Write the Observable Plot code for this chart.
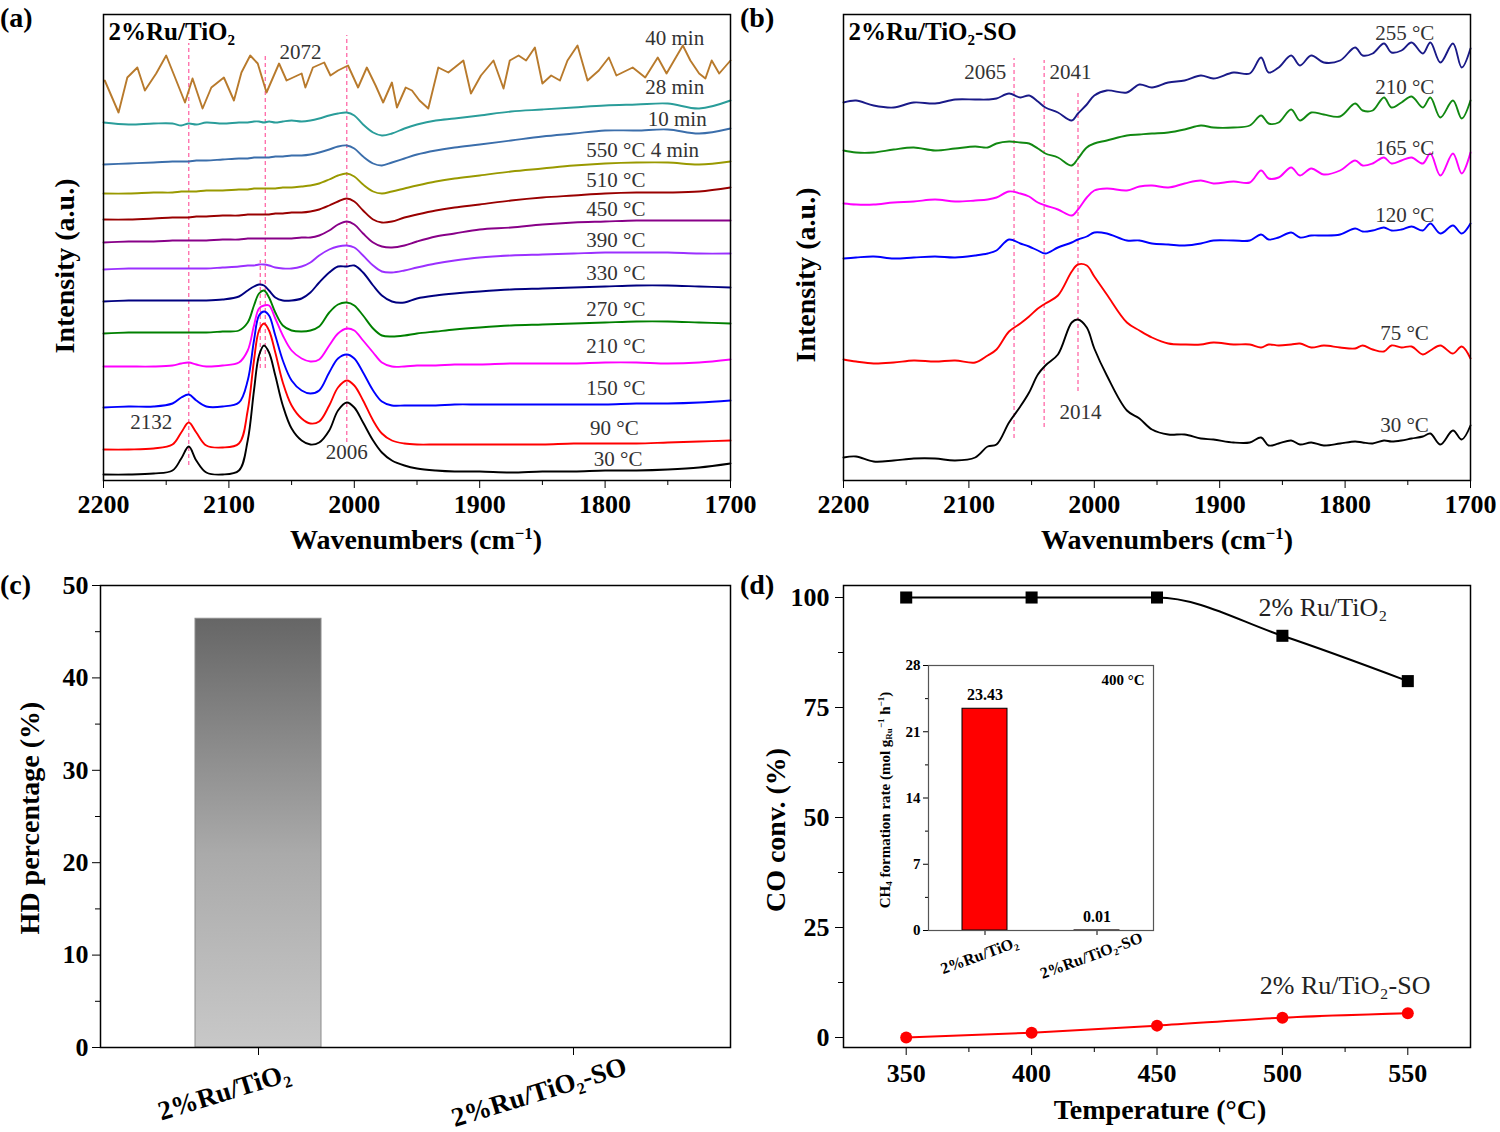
<!DOCTYPE html>
<html><head><meta charset="utf-8">
<script src="https://cdn.jsdelivr.net/npm/d3@7"></script>
<script src="https://cdn.jsdelivr.net/npm/@observablehq/plot@0.6"></script>
<style>
body{margin:0;background:#fff;}
#root{position:relative;width:1500px;height:1132px;overflow:hidden;font-family:"Liberation Serif",serif;color:#000;}
.abs{position:absolute;white-space:nowrap;line-height:1;}
.plbl{font-weight:bold;font-size:28px;}
.ax{font-weight:bold;font-size:28px;transform:translate(-50%,-50%);}
.rot{font-weight:bold;font-size:28px;transform:translate(-50%,-50%) rotate(-90deg);}
.rots{font-weight:bold;font-size:15px;transform:translate(-50%,-50%) rotate(-90deg);}
sup{font-size:60%;vertical-align:0.6em;line-height:0;}
sub{font-size:60%;vertical-align:-0.25em;line-height:0;}
svg{position:absolute;overflow:visible;}
</style></head><body><div id="root"></div>
<script>
const FONT = "Liberation Serif, Times New Roman, serif";

// ---------- Panel (a): DRIFTS spectra of 2%Ru/TiO2 ----------
const waveA = [2200,2180,2160,2145,2138,2132,2126,2118,2105,2092,2085,2080,2076,2072,2068,2063,2057,2050,2042,2035,2028,2020,2013,2006,2000,1993,1985,1978,1970,1960,1950,1935,1920,1900,1875,1850,1825,1800,1775,1750,1725,1700];
const a30  = [6,6,7,10,22,34,20,8,6,10,40,90,125,135,128,105,75,52,40,36,38,50,70,78,73,58,40,28,20,15,12,10,9,9,8,9,9,10,10,11,13,17];
const a90  = [31,31,32,36,48,58,48,35,33,37,70,120,150,157,150,128,98,75,62,57,59,75,93,100,95,80,60,47,40,37,36,36,36,36,36,36,37,37,37,38,39,40];
const a150 = [73,74,74,77,83,86,80,74,74,78,100,140,165,169,165,145,120,100,90,87,90,108,122,126,122,108,90,79,75,75,75,75,76,76,76,76,76,76,77,77,78,80];
const a210 = [114,114,114,115,117,118,116,114,115,118,130,155,172,175,175,162,145,130,122,119,121,135,147,152,150,140,128,118,114,114,115,115,116,116,117,117,117,118,118,117,118,121];
const a270 = [147,148,148,148,148,148,148,148,149,150,158,175,187,190,183,168,155,150,149,150,154,168,176,178,175,165,152,145,144,145,147,149,151,153,155,156,157,158,159,159,158,157];
const a330 = [179,180,180,180,180,180,180,180,181,184,190,194,196,195,190,183,180,180,182,188,198,208,214,214,215,208,195,185,179,178,182,185,187,189,191,192,193,194,195,195,194,193];
const a390 = [211,212,212,212,212,212,212,212,213,214,215,215,216,216,215,213,212,212,214,218,225,231,234,235,233,225,215,209,208,210,213,217,220,223,225,226,227,228,228,228,227,227];
const a450 = [238,239,239,240,240,240,240,240,241,241,242,242,242,242,242,242,242,242,243,243,245,250,256,259,256,247,238,234,233,235,239,244,247,251,253,256,258,259,260,260,260,260];
const a510 = [261,261,262,263,263,263,264,264,265,265,266,266,266,266,266,267,267,268,268,269,271,275,279,282,279,270,261,258,259,263,266,270,273,276,280,283,285,287,288,288,289,293];
const a550 = [287,287,288,288,289,289,289,290,290,291,291,292,292,292,292,292,293,293,294,295,297,301,305,307,304,296,289,287,289,292,295,299,302,305,309,312,315,317,318,318,316,319];
const a10m = [316,317,318,319,319,319,320,320,321,322,322,323,323,323,323,324,324,325,325,326,328,331,334,335,332,324,317,315,318,322,326,330,333,336,340,344,347,350,350,351,347,352];
const a28m = [358,356,357,357,355,357,356,358,357,358,358,359,359,358,359,358,359,360,359,360,362,365,367,368,365,356,348,345,347,352,356,360,362,365,369,371,373,375,376,377,372,380];
const wave40 = [2199,2188,2181,2173,2167,2158,2150,2142,2135,2129,2121,2114,2104,2096,2090,2083,2077,2070,2060,2054,2042,2039,2033,2024,2019,2013,2005,1997,1990,1983,1977,1970,1966,1959,1954,1948,1941,1933,1925,1913,1907,1899,1889,1881,1876,1869,1863,1856,1850,1843,1836,1830,1822,1814,1805,1797,1791,1778,1768,1758,1751,1745,1738,1732,1725,1720,1715,1709,1700];
const a40m = [400,368,403,413,390,407,425,400,378,402,372,393,403,380,408,425,417,388,417,400,407,393,413,418,405,410,415,393,413,395,378,398,373,393,390,380,372,413,408,420,387,405,420,392,420,425,420,433,397,405,400,420,435,400,410,423,405,413,403,423,407,420,435,420,407,402,420,407,420];

const namesA  = ["30 °C","90 °C","150 °C","210 °C","270 °C","330 °C","390 °C","450 °C","510 °C","550 °C 4 min","10 min","28 min","40 min"];
const colorsA = ["#000000","#ff0000","#0000ff","#ff00ff","#008000","#000080","#9b30ff","#880088","#990000","#999900","#3b6eab","#2a9d9a","#b87a2c"];
const valuesA = [a30,a90,a150,a210,a270,a330,a390,a450,a510,a550,a10m,a28m];
// label anchors (wavenumber, intensity level)
const labelWA = [1809,1812,1815,1815,1815,1815,1815,1815,1815,1815,1766,1768,1768];
const labelLA = [21,52,92,134,171,207,240,271,300,330,361,393,442];
// dashed peak markers
const dashWA = [2132,2075,2071,2006];
const dashFromA = [15,112,112,38];
const dashToA = [437,220,427,445];
const peakTxtA = ["2132","2072","2006"];
const peakWA = [2162,2043,2006];
const peakLA = [58,428,28];

// ---------- Panel (b): DRIFTS spectra of 2%Ru/TiO2-SO ----------
const waveB = [2200,2190,2176,2160,2144,2127,2111,2095,2085,2078,2068,2059,2052,2045,2039,2029,2018,2013,2006,2000,1990,1974,1964,1954,1941,1928,1915,1905,1889,1876,1867,1861,1853,1843,1836,1827,1817,1804,1792,1786,1778,1769,1763,1755,1747,1738,1732,1724,1714,1707,1700];
const b30  = [23,24,19,20,22,22,20,23,34,36,58,74,88,106,115,126,158,161,153,132,105,70,62,51,46,46,42,41,38,38,43,35,37,40,36,38,35,37,39,38,37,40,39,40,42,44,47,36,50,41,55];
const b75  = [121,119,117,118,120,119,120,118,125,131,149,157,164,172,177,185,209,216,215,204,186,158,150,143,137,136,136,138,136,136,133,136,135,136,137,133,135,133,132,135,131,129,135,133,134,126,130,135,127,134,122];
const b120 = [222,223,224,222,223,224,223,225,227,230,241,237,234,230,227,233,238,241,244,248,247,240,240,237,236,235,237,240,240,240,246,241,243,248,243,245,245,246,252,249,250,253,250,251,254,250,257,247,255,247,257];
const b165 = [277,276,276,278,279,281,279,280,281,283,289,287,284,278,275,271,265,271,283,290,292,290,294,295,293,297,300,297,299,298,310,302,303,313,305,312,306,310,320,315,317,323,317,320,323,317,327,305,327,307,328];
const b210 = [330,328,328,331,333,330,332,334,333,337,339,338,337,332,327,323,315,322,333,337,340,345,346,347,348,351,355,353,353,355,365,357,358,371,360,368,366,364,377,370,370,383,373,378,384,373,383,363,380,362,380];
const b255 = [378,380,375,373,378,377,381,381,381,382,387,383,385,379,373,368,360,367,376,385,390,388,396,393,398,400,405,402,408,407,423,408,413,425,415,425,418,420,433,425,427,437,428,430,438,427,438,418,437,413,432];
const namesB  = ["30 °C","75 °C","120 °C","165 °C","210 °C","255 °C"];
const colorsB = ["#000000","#ff0000","#0000ff","#ff00ff","#118811","#1a1a88"];
const valuesB = [b30,b75,b120,b165,b210,b255];
const labelWB = [1772,1772,1776,1776,1776,1776];
const labelLB = [55,147,265,332,393,447];
const dashWB = [2064,2040,2013];
const dashFromB = [42,53,89];
const dashToB = [422,420,390];
const peakTxtB = ["2065","2041","2014"];
const peakWB = [2087,2019,2011];
const peakLB = [408,408,68];

// ---------- Panel (c): HD percentage ----------
const catsC = ["2%Ru/TiO₂","2%Ru/TiO₂-SO"];
const hdC = [46.4, 0];

// ---------- Panel (d): CO conversion ----------
const tempD = [350,400,450,500,550];
const convRu = [100,100,100,91.3,81];
const convSO = [0,1.1,2.7,4.5,5.5];

// ---------- Inset: CH4 formation rate at 400 °C ----------
const catsIn = ["2%Ru/TiO₂","2%Ru/TiO₂-SO"];
const rateIn = [23.43, 0.01];

const root = document.getElementById("root");
function place(svg, left, top){ svg.style.left = left+"px"; svg.style.top = top+"px"; root.appendChild(svg); return svg; }
function html(cls, left, top, inner){ const d=document.createElement("div"); d.className="abs "+cls; d.style.left=left+"px"; d.style.top=top+"px"; d.innerHTML=inner; root.appendChild(d); return d; }
const baseStyle = {fontFamily: FONT, fontSize: "26px", fontWeight: "bold", color: "#000", background: "transparent", overflow: "visible"};

function spectrum(opts){
  const rows = [];
  opts.values.forEach((vals,k)=> opts.wave.forEach((w,i)=> rows.push({w, v: vals[i], s: opts.names[k]})));
  const labels = opts.names.map((n,i)=>({t:n, w:opts.labelW[i], l:opts.labelL[i]}));
  const dashes = opts.dashW.map((w,i)=>({w, a:opts.dashFrom[i], b:opts.dashTo[i]}));
  const peaks = opts.peakTxt.map((t,i)=>({t, w:opts.peakW[i], l:opts.peakL[i]}));
  const extraMarks = opts.extra ? [Plot.line(opts.extra, {x: "w", y: "v", z: "s", stroke: "s", strokeWidth: 1.9, curve: "linear"})] : [];
  return Plot.plot({
    width: opts.width, height: 560, marginLeft: opts.ml, marginRight: opts.mr, marginTop: 14, marginBottom: 80,
    style: baseStyle,
    x: {domain: [2200, 1700]},
    y: {domain: [0, 466], axis: null},
    color: {domain: opts.names, range: opts.colors},
    marks: [
      Plot.ruleX(dashes, {x: "w", y1: "a", y2: "b", stroke: "#ff5ca0", strokeWidth: 1.2, strokeDasharray: "4,3"}),
      Plot.line(rows, {x: "w", y: "v", z: "s", stroke: "s", strokeWidth: 1.9, curve: "catmull-rom"}),
      ...extraMarks,
      Plot.text(labels, {x: "w", y: "l", text: "t", textAnchor: "start", fontSize: 21, fontWeight: "normal", fill: "#333"}),
      Plot.text(peaks, {x: "w", y: "l", text: "t", fontSize: 21, fontWeight: "normal", fill: "#333"}),
      Plot.text([opts.title], {frameAnchor: "top-left", dx: 5, dy: 8, fontSize: 25, fontWeight: "bold", fill: "#000"}),
      Plot.axisX([2200,2100,2000,1900,1800,1700], {tickSize: 8, tickPadding: 6, tickFormat: d => String(d), label: null, fontSize: 26, fontWeight: "bold"}),
      Plot.axisX([2150,2050,1950,1850,1750], {tickSize: 5, tickFormat: () => "", label: null}),
      Plot.frame({strokeWidth: 1.5})
    ]
  });
}

const rows40 = wave40.map((w,i)=>({w, v: a40m[i], s: "40 min"}));
place(spectrum({width: 750, ml: 103, mr: 20, wave: waveA, values: valuesA, names: namesA, colors: colorsA,
  extra: rows40, labelW: labelWA, labelL: labelLA, dashW: dashWA, dashFrom: dashFromA, dashTo: dashToA,
  peakTxt: peakTxtA, peakW: peakWA, peakL: peakLA, title: "2%Ru/TiO₂"}), 0, 0);

place(spectrum({width: 760, ml: 103, mr: 30, wave: waveB, values: valuesB, names: namesB, colors: colorsB,
  labelW: labelWB, labelL: labelLB, dashW: dashWB, dashFrom: dashFromB, dashTo: dashToB,
  peakTxt: peakTxtB, peakW: peakWB, peakL: peakLB, title: "2%Ru/TiO₂-SO"}), 740, 0);

// Panel (c)
const svgC = Plot.plot({
  width: 750, height: 572, marginLeft: 100, marginRight: 20, marginTop: 25, marginBottom: 85,
  style: baseStyle,
  x: {domain: catsC, paddingInner: 0.6, paddingOuter: 0.3},
  y: {domain: [0, 50]},
  marks: [
    Plot.barY(catsC.map((c,i)=>({c, v: hdC[i]})), {x: "c", y: "v", fill: "url(#hdgrad)", stroke: "#8c8c8c", strokeWidth: 1}),
    Plot.axisY([0,10,20,30,40,50], {tickSize: 8, tickPadding: 4, tickFormat: d => String(d), label: null, fontSize: 26, fontWeight: "bold"}),
    Plot.axisY([5,15,25,35,45], {tickSize: 5, tickFormat: () => "", label: null}),
    Plot.axisX({tickSize: 8, tickFormat: () => "", label: null}),
    Plot.text(catsC, {x: d => d, text: d => d, frameAnchor: "bottom", dx: -32, dy: 53, rotate: -17, fontSize: 27, fontWeight: "bold"}),
    Plot.frame({strokeWidth: 1.5})
  ]
});
{
  const defs = d3.select(svgC).insert("defs", ":first-child");
  const g = defs.append("linearGradient").attr("id", "hdgrad").attr("x1", 0).attr("y1", 0).attr("x2", 0).attr("y2", 1);
  g.append("stop").attr("offset", "0%").attr("stop-color", "#666666");
  g.append("stop").attr("offset", "55%").attr("stop-color", "#aaaaaa");
  g.append("stop").attr("offset", "100%").attr("stop-color", "#c8c8c8");
}
place(svgC, 0, 560);

// Panel (d)
const rowsRu = tempD.map((t,i)=>({t, v: convRu[i]}));
const rowsSO = tempD.map((t,i)=>({t, v: convSO[i]}));
place(Plot.plot({
  width: 760, height: 572, marginLeft: 103, marginRight: 30, marginTop: 25, marginBottom: 85,
  style: baseStyle,
  x: {domain: [325, 575]},
  y: {domain: [-2.27, 102.73]},
  marks: [
    Plot.line(rowsRu, {x: "t", y: "v", stroke: "#000", strokeWidth: 2, curve: "monotone-x"}),
    Plot.dot(rowsRu, {x: "t", y: "v", symbol: "square", r: 6.8, fill: "#000"}),
    Plot.line(rowsSO, {x: "t", y: "v", stroke: "#ff0000", strokeWidth: 2, curve: "monotone-x"}),
    Plot.dot(rowsSO, {x: "t", y: "v", symbol: "circle", r: 6, fill: "#ff0000"}),
    Plot.text(["2% Ru/TiO₂"], {x: 490.5, y: 97.7, textAnchor: "start", fontSize: 26, fontWeight: "normal", fill: "#222"}),
    Plot.text(["2% Ru/TiO₂-SO"], {x: 491, y: 11.8, textAnchor: "start", fontSize: 26, fontWeight: "normal", fill: "#222"}),
    Plot.axisX([350,400,450,500,550], {tickSize: 8, tickPadding: 8, tickFormat: d => String(d), label: null, fontSize: 26, fontWeight: "bold"}),
    Plot.axisX([375,425,475,525], {tickSize: 5, tickFormat: () => "", label: null}),
    Plot.axisY([0,25,50,75,100], {tickSize: 8, tickPadding: 6, tickFormat: d => String(d), label: null, fontSize: 26, fontWeight: "bold"}),
    Plot.axisY([12.5,37.5,62.5,87.5], {tickSize: 5, tickFormat: () => "", label: null}),
    Plot.frame({strokeWidth: 1.5})
  ]
}), 740, 560);

// Inset
const rowsIn = catsIn.map((c,i)=>({c, v: rateIn[i]}));
place(Plot.plot({
  width: 300, height: 340, marginLeft: 68, marginRight: 7, marginTop: 15, marginBottom: 60,
  style: Object.assign({}, baseStyle, {fontSize: "15px"}),
  x: {domain: catsIn, paddingInner: 0.6, paddingOuter: 0.3},
  y: {domain: [0, 28]},
  marks: [
    Plot.barY(rowsIn, {x: "c", y: "v", fill: "#ff0000", stroke: "#000", strokeWidth: 1}),
    Plot.text(rowsIn, {x: "c", y: "v", text: d => d.v.toFixed(2), dy: -14, fontSize: 16, fontWeight: "bold"}),
    Plot.text(["400 °C"], {frameAnchor: "top-right", dx: -9, dy: 9, fontSize: 15, fontWeight: "bold"}),
    Plot.axisY([0,7,14,21,28], {tickSize: 5, tickPadding: 3, tickFormat: d => String(d), label: null, fontSize: 15, fontWeight: "bold"}),
    Plot.axisY([3.5,10.5,17.5,24.5], {tickSize: 3, tickFormat: () => "", label: null}),
    Plot.axisX({tickSize: 5, tickFormat: () => "", label: null}),
    Plot.text(catsIn, {x: d => d, text: d => d, frameAnchor: "bottom", dx: -4, dy: 30, rotate: -20, fontSize: 16, fontWeight: "bold"}),
    Plot.frame({stroke: "#555", strokeWidth: 1.2})
  ]
}), 860, 650);

// HTML text: panel letters, axis titles
html("plbl", 0, 4, "(a)");
html("plbl", 740, 4, "(b)");
html("plbl", 0, 571, "(c)");
html("plbl", 740, 571, "(d)");
html("ax", 416, 540, "Wavenumbers (cm<sup>−1</sup>)");
html("ax", 1167, 540, "Wavenumbers (cm<sup>−1</sup>)");
html("rot", 65, 266, "Intensity (a.u.)");
html("rot", 806, 275, "Intensity (a.u.)");
html("rot", 30, 818, "HD percentage (%)");
html("rot", 776, 830, "CO conv. (%)");
html("ax", 1160, 1110, "Temperature (°C)");
html("rots", 885, 800, "CH<sub>4</sub> formation rate (mol g<sub>Ru</sub><sup>−1</sup> h<sup>−1</sup>)");
</script></body></html>
